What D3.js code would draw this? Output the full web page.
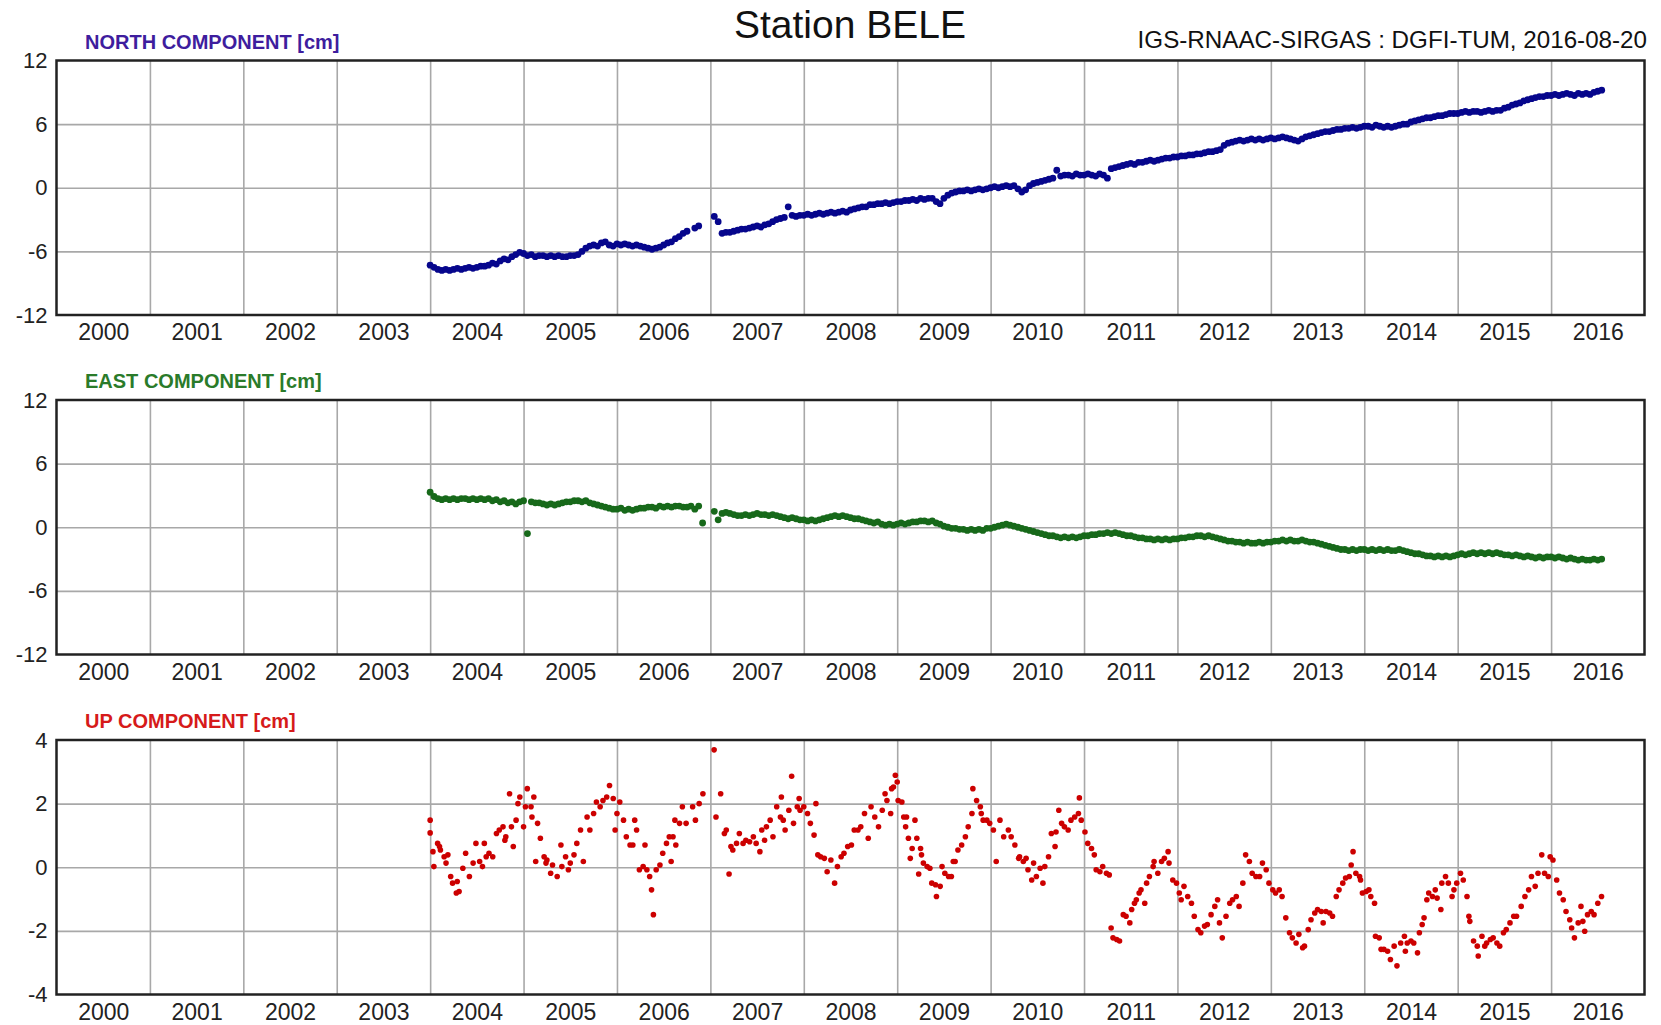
<!DOCTYPE html>
<html><head><meta charset="utf-8">
<script src="https://cdn.jsdelivr.net/npm/d3@7/dist/d3.min.js"></script>
<style>
body{margin:0;background:#fff}
svg{display:block}
text{font-family:"Liberation Sans",Arial,Helvetica,sans-serif}
</style>
</head><body>
<svg id="chart" width="1661" height="1025"></svg>
<script>
// ---------------- DATA ----------------
const titleText = "Station BELE";
const creditText = "IGS-RNAAC-SIRGAS : DGFI-TUM, 2016-08-20";
const yearLabels = [2000,2001,2002,2003,2004,2005,2006,2007,2008,2009,2010,2011,2012,2013,2014,2015,2016];
const neTicks = [-12,-6,0,6,12];
const upTicks = [-4,-2,0,2,4];

// North / East: semi-monthly solutions starting 2004.0 (24 per year), cm
const seriesStart = 2004.0;
const perYear = 24;
const northValues = [
 -7.3,-7.5,-7.7,-7.8,-7.7,-7.8,-7.7,-7.6,-7.7,-7.6,-7.5,-7.6,-7.5,-7.4,-7.4,-7.3,-7.1,-7.2,-6.9,-6.7,-6.8,-6.5,-6.3,-6.1,
 -6.2,-6.4,-6.3,-6.5,-6.4,-6.4,-6.5,-6.4,-6.5,-6.4,-6.5,-6.5,-6.4,-6.4,-6.3,-6.0,-5.7,-5.5,-5.4,-5.5,-5.2,-5.1,-5.4,-5.5,
 -5.3,-5.4,-5.3,-5.4,-5.5,-5.4,-5.5,-5.6,-5.7,-5.8,-5.7,-5.6,-5.4,-5.2,-5.1,-4.8,-4.6,-4.3,-4.1,null,-3.8,-3.6,null,null,
 null,-2.7,-3.2,-4.3,-4.2,-4.2,-4.1,-4.0,-3.9,-3.9,-3.8,-3.7,-3.6,-3.7,-3.5,-3.4,-3.2,-3.0,-2.9,-2.8,-1.8,-2.6,-2.7,-2.6,
 -2.6,-2.5,-2.6,-2.5,-2.4,-2.5,-2.4,-2.3,-2.4,-2.3,-2.2,-2.3,-2.1,-2.0,-1.9,-1.8,-1.8,-1.6,-1.6,-1.5,-1.5,-1.4,-1.5,-1.4,
 -1.3,-1.3,-1.2,-1.2,-1.1,-1.2,-1.0,-1.1,-1.0,-1.0,-1.3,-1.5,-1.0,-0.7,-0.5,-0.4,-0.3,-0.3,-0.2,-0.3,-0.2,-0.1,-0.2,-0.1,
 0.0,0.1,0.0,0.1,0.2,0.1,0.2,-0.1,-0.4,-0.2,0.2,0.4,0.5,0.6,0.7,0.8,0.9,1.65,1.1,1.2,1.2,1.1,1.3,1.2,
 1.2,1.3,1.2,1.1,1.3,1.2,0.9,1.8,1.9,2.0,2.1,2.2,2.3,2.2,2.4,2.4,2.5,2.6,2.5,2.6,2.7,2.8,2.8,2.9,
 2.9,3.0,3.0,3.1,3.1,3.2,3.2,3.3,3.4,3.4,3.5,3.6,4.0,4.2,4.3,4.4,4.5,4.4,4.5,4.6,4.5,4.6,4.5,4.6,
 4.7,4.6,4.7,4.8,4.7,4.6,4.5,4.4,4.6,4.8,4.9,5.0,5.1,5.2,5.3,5.3,5.4,5.5,5.5,5.6,5.6,5.7,5.6,5.7,
 5.8,5.8,5.7,5.9,5.8,5.7,5.8,5.7,5.8,5.9,6.0,6.0,6.2,6.3,6.4,6.5,6.6,6.6,6.7,6.8,6.8,6.9,7.0,7.0,
 7.0,7.1,7.2,7.1,7.2,7.2,7.1,7.2,7.3,7.2,7.3,7.3,7.5,7.6,7.8,7.9,8.0,8.2,8.3,8.4,8.5,8.6,8.6,8.7,
 8.7,8.8,8.7,8.8,8.9,8.8,8.7,8.9,8.8,8.9,8.8,9.0,9.1,9.2
];
const eastValues = [
 3.3,2.9,2.7,2.6,2.7,2.6,2.7,2.6,2.7,2.7,2.6,2.7,2.6,2.7,2.6,2.7,2.5,2.6,2.4,2.5,2.3,2.4,2.2,2.4,
 2.5,-0.6,2.4,2.3,2.3,2.2,2.1,2.2,2.1,2.2,2.3,2.4,2.4,2.5,2.5,2.4,2.5,2.3,2.2,2.1,2.0,1.9,1.8,1.7,
 1.7,1.8,1.6,1.7,1.6,1.7,1.8,1.8,1.9,1.9,1.8,2.0,1.9,2.0,1.9,2.0,2.0,1.9,1.9,2.0,1.7,2.0,0.4,null,
 null,1.5,0.7,1.3,1.4,1.3,1.2,1.1,1.1,1.2,1.1,1.2,1.3,1.2,1.2,1.1,1.2,1.1,1.0,0.9,0.8,0.9,0.8,0.7,
 0.7,0.6,0.7,0.6,0.7,0.8,0.9,1.0,1.1,1.0,1.1,1.0,0.9,0.8,0.8,0.7,0.6,0.5,0.4,0.5,0.3,0.2,0.3,0.2,
 0.3,0.4,0.3,0.4,0.5,0.5,0.6,0.6,0.5,0.6,0.4,0.3,0.1,0.0,-0.1,-0.1,-0.2,-0.2,-0.3,-0.2,-0.3,-0.2,-0.3,-0.1,
 -0.1,0.0,0.1,0.2,0.3,0.2,0.1,0.0,-0.1,-0.2,-0.3,-0.4,-0.5,-0.6,-0.7,-0.8,-0.8,-0.9,-1.0,-0.9,-1.0,-0.9,-1.0,-0.9,
 -0.8,-0.8,-0.7,-0.7,-0.6,-0.6,-0.5,-0.6,-0.5,-0.6,-0.7,-0.8,-0.8,-0.9,-1.0,-1.0,-1.1,-1.1,-1.2,-1.1,-1.2,-1.1,-1.2,-1.1,
 -1.1,-1.0,-1.0,-0.9,-0.9,-0.8,-0.8,-0.9,-0.8,-0.9,-1.0,-1.1,-1.2,-1.3,-1.3,-1.4,-1.4,-1.5,-1.4,-1.5,-1.5,-1.4,-1.5,-1.4,
 -1.4,-1.3,-1.3,-1.2,-1.3,-1.2,-1.3,-1.3,-1.2,-1.3,-1.4,-1.4,-1.5,-1.6,-1.7,-1.8,-1.9,-2.0,-2.1,-2.1,-2.2,-2.1,-2.2,-2.1,
 -2.1,-2.2,-2.1,-2.2,-2.1,-2.2,-2.1,-2.2,-2.2,-2.1,-2.2,-2.3,-2.4,-2.5,-2.5,-2.6,-2.7,-2.7,-2.8,-2.7,-2.8,-2.7,-2.8,-2.7,
 -2.6,-2.5,-2.6,-2.5,-2.4,-2.5,-2.4,-2.5,-2.4,-2.5,-2.4,-2.5,-2.6,-2.6,-2.7,-2.6,-2.7,-2.8,-2.7,-2.8,-2.9,-2.8,-2.9,-2.8,
 -2.8,-2.9,-2.8,-2.9,-3.0,-2.9,-3.0,-3.1,-3.0,-3.1,-3.1,-3.0,-3.1,-3.0
];

// Up component: [decimal year, cm]
const upObs = [
[2004.00,1.48],[2004.00,1.08],[2004.03,0.49],[2004.04,0.02],[2004.08,0.75],[2004.10,0.65],[2004.11,0.54],[2004.15,0.33],
[2004.17,0.13],[2004.19,0.39],[2004.22,-0.29],[2004.24,-0.5],[2004.28,-0.81],[2004.29,-0.45],[2004.31,-0.76],[2004.35,-0.03],
[2004.38,0.44],[2004.42,-0.29],[2004.46,0.13],[2004.49,0.75],[2004.53,0.18],[2004.56,0.02],[2004.58,0.75],[2004.60,0.33],
[2004.63,0.44],[2004.67,0.33],[2004.71,1.06],[2004.74,1.17],[2004.78,1.27],[2004.80,0.85],[2004.81,0.96],[2004.85,2.31],
[2004.87,1.27],[2004.89,0.65],[2004.92,1.48],[2004.94,2.0],[2004.96,2.21],[2005.00,1.27],[2005.02,1.9],[2005.04,2.47],
[2005.08,1.9],[2005.09,1.58],[2005.11,2.21],[2005.13,0.18],[2005.15,1.38],[2005.18,0.91],[2005.22,0.33],[2005.24,0.13],
[2005.25,0.23],[2005.29,-0.19],[2005.31,0.07],[2005.36,-0.29],[2005.40,0.7],[2005.41,0.02],[2005.45,0.33],[2005.48,-0.08],
[2005.50,0.13],[2005.54,0.39],[2005.57,0.75],[2005.61,1.17],[2005.64,0.18],[2005.68,1.58],[2005.71,1.17],[2005.75,1.69],
[2005.78,2.05],[2005.82,1.9],[2005.85,2.1],[2005.89,2.21],[2005.92,2.57],[2005.96,2.16],[2005.98,1.17],[2006.00,1.69],
[2006.03,2.05],[2006.07,1.48],[2006.10,0.96],[2006.14,0.7],[2006.17,0.7],[2006.19,1.48],[2006.21,1.17],[2006.24,-0.08],
[2006.28,0.02],[2006.30,0.7],[2006.32,-0.08],[2006.35,-0.29],[2006.37,-0.71],[2006.39,-1.49],[2006.42,-0.08],[2006.46,0.07],
[2006.49,0.44],[2006.53,0.75],[2006.56,0.96],[2006.58,0.18],[2006.60,0.96],[2006.62,1.48],[2006.63,0.7],[2006.67,1.38],
[2006.70,1.9],[2006.74,1.38],[2006.81,1.9],[2006.84,1.48],[2006.88,2.0],[2006.92,2.31],[2007.04,3.69],[2007.06,1.58],
[2007.11,2.31],[2007.15,1.06],[2007.17,1.17],[2007.20,-0.21],[2007.22,0.65],[2007.24,0.54],[2007.28,0.75],[2007.31,1.06],
[2007.35,0.75],[2007.38,0.85],[2007.42,0.8],[2007.46,0.96],[2007.49,0.75],[2007.53,0.49],[2007.55,1.17],[2007.58,0.85],
[2007.60,1.27],[2007.64,1.48],[2007.67,0.96],[2007.71,1.9],[2007.75,1.58],[2007.76,2.21],[2007.78,1.48],[2007.80,1.17],
[2007.84,1.79],[2007.87,2.86],[2007.89,1.38],[2007.93,1.9],[2007.95,2.16],[2007.96,1.79],[2008.00,1.9],[2008.04,1.69],
[2008.07,1.38],[2008.11,1.01],[2008.13,2.0],[2008.15,0.39],[2008.18,0.33],[2008.22,0.28],[2008.25,-0.14],[2008.29,0.23],
[2008.33,-0.5],[2008.36,0.02],[2008.40,0.33],[2008.43,0.44],[2008.47,0.65],[2008.51,0.7],[2008.54,1.17],[2008.58,1.17],
[2008.61,1.27],[2008.65,1.69],[2008.69,0.91],[2008.72,1.9],[2008.76,1.58],[2008.80,1.27],[2008.84,1.79],[2008.87,2.31],
[2008.89,2.1],[2008.93,1.69],[2008.94,2.47],[2008.96,2.52],[2008.98,2.89],[2009.00,2.68],[2009.01,2.1],[2009.05,2.05],
[2009.07,1.58],[2009.09,1.27],[2009.10,1.58],[2009.12,0.91],[2009.14,0.28],[2009.16,0.59],[2009.19,1.48],[2009.21,0.91],
[2009.23,-0.21],[2009.25,0.59],[2009.26,0.39],[2009.28,0.13],[2009.32,0.02],[2009.35,-0.03],[2009.37,-0.5],[2009.41,-0.55],
[2009.42,-0.92],[2009.46,-0.6],[2009.48,0.02],[2009.51,-0.19],[2009.55,-0.29],[2009.58,-0.29],[2009.60,0.18],[2009.62,0.18],
[2009.65,0.54],[2009.69,0.7],[2009.73,0.96],[2009.76,1.27],[2009.80,1.69],[2009.81,2.47],[2009.85,2.1],[2009.89,1.9],
[2009.90,1.69],[2009.92,1.48],[2009.96,1.48],[2009.99,1.38],[2010.03,1.17],[2010.06,0.18],[2010.10,1.48],[2010.14,0.96],
[2010.19,1.17],[2010.22,0.96],[2010.26,0.7],[2010.30,0.28],[2010.31,0.33],[2010.35,0.18],[2010.38,0.28],[2010.40,-0.08],
[2010.44,-0.4],[2010.46,0.13],[2010.49,-0.29],[2010.53,-0.03],[2010.56,-0.5],[2010.58,0.02],[2010.62,0.33],[2010.65,1.06],
[2010.69,0.65],[2010.70,1.11],[2010.73,1.79],[2010.76,1.38],[2010.79,1.27],[2010.83,1.17],[2010.86,1.48],[2010.90,1.58],
[2010.94,1.69],[2010.95,2.18],[2010.97,1.48],[2011.01,1.11],[2011.04,0.75],[2011.08,0.59],[2011.11,0.39],[2011.13,-0.08],
[2011.17,-0.14],[2011.20,0.02],[2011.24,-0.19],[2011.27,-0.24],[2011.29,-1.91],[2011.31,-2.22],[2011.35,-2.27],[2011.38,-2.32],
[2011.42,-1.49],[2011.45,-1.54],[2011.49,-1.75],[2011.51,-1.33],[2011.54,-1.13],[2011.56,-1.02],[2011.59,-0.81],[2011.61,-0.71],
[2011.65,-1.13],[2011.67,-0.5],[2011.70,-0.29],[2011.74,0.02],[2011.75,0.18],[2011.79,-0.19],[2011.83,0.18],[2011.86,0.28],
[2011.90,0.49],[2011.91,0.13],[2011.95,-0.4],[2011.99,-0.5],[2012.02,-0.81],[2012.04,-1.02],[2012.07,-0.6],[2012.11,-0.92],
[2012.15,-1.13],[2012.18,-1.54],[2012.22,-1.96],[2012.25,-2.06],[2012.29,-1.85],[2012.32,-1.8],[2012.36,-1.49],[2012.40,-1.23],
[2012.43,-1.02],[2012.45,-1.75],[2012.48,-2.22],[2012.52,-1.54],[2012.56,-1.13],[2012.59,-1.02],[2012.63,-0.92],[2012.66,-1.23],
[2012.70,-0.5],[2012.73,0.39],[2012.77,0.18],[2012.80,-0.19],[2012.84,-0.29],[2012.88,-0.29],[2012.91,0.13],[2012.95,-0.08],
[2012.98,-0.5],[2013.02,-0.71],[2013.05,-0.81],[2013.09,-0.71],[2013.12,-0.92],[2013.16,-1.59],[2013.20,-2.06],[2013.23,-2.22],
[2013.27,-2.38],[2013.30,-2.11],[2013.34,-2.53],[2013.36,-2.48],[2013.40,-1.96],[2013.43,-1.65],[2013.47,-1.44],[2013.50,-1.33],
[2013.54,-1.39],[2013.56,-1.75],[2013.59,-1.39],[2013.63,-1.44],[2013.66,-1.54],[2013.70,-0.92],[2013.73,-0.71],[2013.77,-0.5],
[2013.80,-0.34],[2013.84,-0.29],[2013.86,0.07],[2013.88,0.49],[2013.91,-0.19],[2013.95,-0.29],[2013.96,-0.4],[2013.98,-0.81],
[2014.02,-0.76],[2014.05,-0.71],[2014.07,-0.92],[2014.11,-1.13],[2014.12,-2.17],[2014.16,-2.22],[2014.18,-2.58],[2014.21,-2.58],
[2014.25,-2.64],[2014.28,-2.9],[2014.32,-2.48],[2014.35,-3.1],[2014.39,-2.38],[2014.43,-2.17],[2014.44,-2.64],[2014.46,-2.38],
[2014.50,-2.32],[2014.53,-2.38],[2014.57,-2.69],[2014.59,-2.06],[2014.62,-1.8],[2014.64,-1.59],[2014.67,-1.02],[2014.69,-0.81],
[2014.73,-0.92],[2014.76,-0.71],[2014.78,-0.97],[2014.82,-1.33],[2014.83,-0.5],[2014.87,-0.29],[2014.90,-0.5],[2014.94,-0.92],
[2014.96,-0.71],[2014.99,-0.5],[2015.03,-0.19],[2015.06,-0.4],[2015.10,-0.92],[2015.12,-1.54],[2015.13,-1.7],[2015.17,-2.32],
[2015.21,-2.48],[2015.22,-2.79],[2015.26,-2.17],[2015.29,-2.48],[2015.31,-2.38],[2015.35,-2.27],[2015.38,-2.22],[2015.42,-2.38],
[2015.45,-2.48],[2015.49,-2.06],[2015.52,-1.96],[2015.56,-1.75],[2015.60,-1.54],[2015.63,-1.54],[2015.68,-1.23],[2015.72,-0.92],
[2015.76,-0.71],[2015.79,-0.29],[2015.83,-0.6],[2015.86,-0.19],[2015.90,0.39],[2015.93,-0.19],[2015.97,-0.29],[2015.99,0.33],
[2016.02,0.23],[2016.06,-0.4],[2016.09,-0.81],[2016.13,-1.02],[2016.16,-1.39],[2016.20,-1.65],[2016.22,-1.91],[2016.25,-2.22],
[2016.29,-1.75],[2016.32,-1.23],[2016.34,-1.7],[2016.36,-2.01],[2016.39,-1.49],[2016.43,-1.39],[2016.46,-1.49],[2016.50,-1.13],
[2016.54,-0.92]
];

// ---------------- DRAW ----------------
const svg = d3.select("#chart");
const left = 56.5, right = 1644.5, panelH = 254.5;
const x = d3.scaleLinear().domain([2000, 2017]).range([left, right]);

const toPts = vals => vals.map((v, i) => ({t: seriesStart + i / perYear, v})).filter(d => d.v !== null);

const panels = [
  {label: "NORTH COMPONENT [cm]", labelColor: "#3e1d9e", dotColor: "#06068c", top: 60.5,
   domain: [-12, 12], ticks: neTicks, data: toPts(northValues), r: 3.4},
  {label: "EAST COMPONENT [cm]", labelColor: "#2a7b2a", dotColor: "#17691a", top: 400,
   domain: [-12, 12], ticks: neTicks, data: toPts(eastValues), r: 3.4},
  {label: "UP COMPONENT [cm]", labelColor: "#d61a1a", dotColor: "#cc0000", top: 740,
   domain: [-4, 4], ticks: upTicks, data: upObs.map(d => ({t: d[0], v: d[1]})), r: 2.8}
];

// title & credit
svg.append("text").attr("x", 850).attr("y", 38).attr("text-anchor", "middle")
  .attr("font-size", 39).attr("fill", "#111").text(titleText);
svg.append("text").attr("x", 1647).attr("y", 48).attr("text-anchor", "end")
  .attr("font-size", 24.2).attr("fill", "#111").text(creditText);

panels.forEach(p => {
  const y = d3.scaleLinear().domain(p.domain).range([p.top + panelH, p.top]);
  const g = svg.append("g");

  // component label
  g.append("text").attr("x", 85).attr("y", p.top - 12)
    .attr("font-size", 20).attr("font-weight", "bold").attr("fill", p.labelColor).text(p.label);

  // vertical gridlines (year boundaries)
  const gridX = d3.axisBottom(x).tickValues(d3.range(2001, 2017)).tickSize(-panelH).tickFormat("");
  const gx = g.append("g").attr("transform", `translate(0,${p.top + panelH})`).call(gridX);
  gx.select(".domain").remove();
  gx.selectAll("line").attr("stroke", "#a8a8a8").attr("stroke-width", 1.6);

  // horizontal gridlines
  const gridY = d3.axisLeft(y).tickValues(p.ticks.slice(1, -1)).tickSize(-(right - left)).tickFormat("");
  const gy = g.append("g").attr("transform", `translate(${left},0)`).call(gridY);
  gy.select(".domain").remove();
  gy.selectAll("line").attr("stroke", "#a8a8a8").attr("stroke-width", 1.6);

  // data
  g.append("g").selectAll("circle").data(p.data).join("circle")
    .attr("cx", d => x(d.t)).attr("cy", d => y(d.v)).attr("r", p.r).attr("fill", p.dotColor);

  // frame
  g.append("rect").attr("x", left).attr("y", p.top).attr("width", right - left).attr("height", panelH)
    .attr("fill", "none").attr("stroke", "#222").attr("stroke-width", 2.5);

  // y tick labels
  const ya = d3.axisLeft(y).tickValues(p.ticks).tickSize(0).tickPadding(9).tickFormat(d3.format("d"));
  const ay = g.append("g").attr("transform", `translate(${left},0)`).call(ya);
  ay.select(".domain").remove();
  ay.selectAll("text").attr("font-size", 22).attr("fill", "#222")
    .attr("font-family", "'Liberation Sans',Arial,sans-serif").text(d => d < 0 ? "-" + Math.abs(d) : d);

  // x tick labels (centered in each year)
  const xa = d3.axisBottom(x).tickValues(yearLabels.map(v => v + 0.5)).tickSize(0).tickPadding(9)
    .tickFormat(d => String(Math.floor(d)));
  const ax = g.append("g").attr("transform", `translate(0,${p.top + panelH})`).call(xa);
  ax.select(".domain").remove();
  ax.selectAll("text").attr("font-size", 23).attr("fill", "#222")
    .attr("font-family", "'Liberation Sans',Arial,sans-serif");
});
</script>
</body></html>
